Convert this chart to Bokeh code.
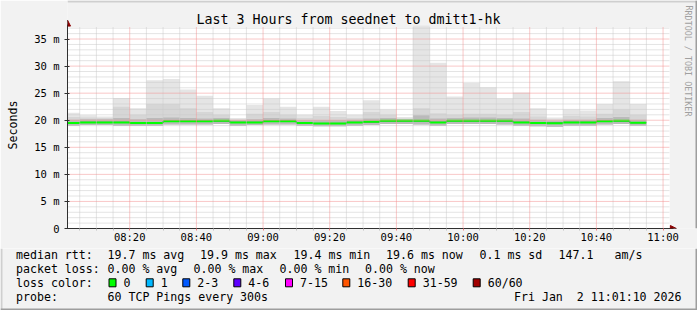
import pandas as pd
from bokeh.plotting import figure
from bokeh.layouts import column
from bokeh.models import (Range1d, FixedTicker, CustomJSTickFormatter, DatetimeTickFormatter,
                          Label, BoxAnnotation, Arrow, NormalHead)
from bokeh.embed import file_html
from bokeh.resources import INLINE

# ---------------- data ----------------
day = "2026-01-02"
interval_start = ["08:00", "08:05", "08:10", "08:15", "08:20", "08:25", "08:30", "08:35", "08:40",
                  "08:45", "08:50", "08:55", "09:00", "09:05", "09:10", "09:15", "09:20", "09:25",
                  "09:30", "09:35", "09:40", "09:45", "09:50", "09:55", "10:00", "10:05", "10:10",
                  "10:15", "10:20", "10:25", "10:30", "10:35", "10:40", "10:45", "10:50"]
median_ms = [19.5, 19.6, 19.6, 19.6, 19.5, 19.5, 19.8, 19.8, 19.8, 19.9, 19.6, 19.6, 19.8, 19.8,
             19.5, 19.4, 19.4, 19.6, 19.7, 19.9, 19.9, 19.9, 19.6, 19.9, 19.9, 19.9, 19.9, 19.6,
             19.5, 19.45, 19.6, 19.6, 19.8, 19.9, 19.55]
smoke_min_ms = [19.0, 19.1, 19.1, 19.0, 19.0, 19.0, 19.2, 19.2, 19.2, 19.3, 19.0, 19.1, 19.2, 19.2,
                19.0, 18.9, 18.9, 19.0, 19.1, 19.3, 19.3, 19.2, 19.0, 19.3, 19.3, 19.3, 19.2, 19.0,
                18.9, 18.8, 19.0, 19.0, 19.2, 19.3, 19.0]
smoke_dark_ms = [20.1, 20.2, 20.2, 20.4, 20.2, 20.4, 20.5, 20.4, 20.3, 20.4, 20.0, 20.2, 20.4, 20.3,
                 20.0, 20.0, 20.0, 20.1, 20.3, 20.4, 20.2, 20.9, 20.3, 20.4, 20.5, 20.5, 20.4, 20.3,
                 20.1, 19.9, 20.1, 20.1, 20.4, 20.6, 20.1]
smoke_mid_ms = [20.6, 20.5, 20.4, 22.5, 21.0, 23.0, 23.0, 22.2, 21.5, 21.0, 20.2, 21.2, 21.5, 21.0,
                20.4, 20.8, 20.6, 20.4, 21.5, 21.0, 20.3, 22.2, 21.3, 21.0, 21.2, 21.2, 21.0, 21.5,
                20.7, 20.2, 20.8, 20.7, 21.2, 22.0, 21.0]
smoke_max_ms = [21.4, 20.9, 20.7, 24.1, 22.2, 27.4, 27.6, 25.7, 24.5, 22.2, 20.4, 22.8, 24.0, 22.5,
                21.0, 22.5, 21.7, 21.0, 23.7, 22.0, 20.6, 37.5, 30.6, 24.4, 26.9, 26.1, 24.0, 25.1,
                22.2, 20.5, 22.0, 21.8, 23.0, 27.2, 23.0]

y_ticks = [0, 5, 10, 15, 20, 25, 30, 35]
y_minor = [1, 2, 3, 4, 6, 7, 8, 9, 11, 12, 13, 14, 16, 17, 18, 19, 21, 22, 23, 24,
           26, 27, 28, 29, 31, 32, 33, 34, 36, 37]
x_tick_labels = ["08:20", "08:40", "09:00", "09:20", "09:40", "10:00", "10:20", "10:40", "11:00"]

title_text = "Last 3 Hours from seednet to dmitt1-hk"
rtt_stats = ["19.7 ms avg", "19.9 ms max", "19.4 ms min", "19.6 ms now", "0.1 ms sd", "147.1", "am/s"]
loss_stats = ["0.00 % avg", "0.00 % max", "0.00 % min", "0.00 % now"]
loss_labels = ["0", "1", "2-3", "4-6", "7-15", "16-30", "31-59", "60/60"]
loss_colors = ["#00ff00", "#00b8ff", "#0059ff", "#5e00ff", "#ff00ff", "#ff5500", "#ff0000", "#a10000"]
probe_text = "60 TCP Pings every 300s"
stamp_text = "Fri Jan\u00a0 2 11:01:10 2026"

# ---------------- layout constants ----------------
FONT = "DejaVu Sans Mono"
W, H = 697, 310
HA = 248                    # height of the chart part, legend part below
FL, FB = 67, 228            # frame left / bottom in page pixels
PX_PER_MIN = 600 / 180
PX_PER_MS = 201 / 37.13


def ms(ts):
    return pd.Timestamp(ts).value // 10**6


T_START = pd.Timestamp(f"{day} 08:01:20")
T_FRAME_END = T_START + pd.Timedelta(minutes=(W - FL) / PX_PER_MIN)
T_AREA_END = pd.Timestamp(f"{day} 11:02:00")
Y_AREA_TOP = 37.13
Y_FRAME_TOP = FB / PX_PER_MS

t0 = pd.to_datetime([f"{day} {s}" for s in interval_start])
t1 = t0 + pd.Timedelta(minutes=5)
major_x = [ms(f"{day} {s}") for s in x_tick_labels]
minor_x = [ms(t) for t in pd.date_range(f"{day} 08:05", f"{day} 11:00", freq="5min")
           if ms(t) not in major_x]

# ---------------- chart figure ----------------
p = figure(width=W, height=HA, x_axis_type="datetime",
           x_range=Range1d(T_START, T_FRAME_END), y_range=Range1d(0, Y_FRAME_TOP),
           output_backend="svg", toolbar_location=None, title=None,
           min_border_left=FL, min_border_right=0, min_border_top=0, min_border_bottom=HA - FB,
           background_fill_color="#f2f2f2", border_fill_color="#f2f2f2", outline_line_color=None)
p.extra_x_ranges = {"px": Range1d(FL, W)}
p.extra_y_ranges = {"py": Range1d(FB, 0)}
p.xgrid.visible = False
p.ygrid.visible = False

# white canvas of the graph
p.add_layout(BoxAnnotation(left=ms(T_START), right=ms(T_AREA_END), bottom=0, top=Y_AREA_TOP,
                           fill_color="white", fill_alpha=1, line_color=None, level="underlay"))

# smoke
p.quad(left=t0, right=t1, bottom=smoke_min_ms, top=smoke_max_ms, fill_color="#e5e5e5", line_color=None)
p.quad(left=t0, right=t1, bottom=smoke_min_ms, top=smoke_mid_ms, fill_color="#d6d6d6", line_color=None)
p.quad(left=t0, right=t1, bottom=smoke_min_ms, top=smoke_dark_ms, fill_color="#bababa", line_color=None)

# median line
step_x = list(t0) + [t1[-1]]
step_y = median_ms + [median_ms[-1]]
p.step(x=step_x, y=step_y, mode="after", line_color="#202020", line_width=1)
p.segment(x0=t0, x1=t1, y0=median_ms, y1=median_ms, line_color="#00ff00", line_width=2)

# grid (on top, like rrdtool)
p.segment(x0=[ms(T_START)] * len(y_minor), x1=[ms(T_AREA_END)] * len(y_minor), y0=y_minor, y1=y_minor,
          line_color="#c8c8c8", line_dash="1 1", line_width=1)
p.segment(x0=minor_x, x1=minor_x, y0=[0] * len(minor_x), y1=[Y_AREA_TOP] * len(minor_x),
          line_color="#c8c8c8", line_dash="1 1", line_width=1)
p.segment(x0=[ms(T_START)] * 7, x1=[ms(T_AREA_END)] * 7, y0=y_ticks[1:], y1=y_ticks[1:],
          line_color="#f29090", line_dash="1 1", line_width=1)
p.segment(x0=major_x, x1=major_x, y0=[0] * len(major_x), y1=[Y_AREA_TOP] * len(major_x),
          line_color="#f29090", line_dash="1 1", line_width=1)

# axes
p.xaxis.ticker = FixedTicker(ticks=major_x, minor_ticks=minor_x)
p.xaxis.formatter = DatetimeTickFormatter(minutes="%H:%M", hourmin="%H:%M", hours="%H:%M")
p.yaxis.ticker = FixedTicker(ticks=y_ticks, minor_ticks=y_minor)
p.yaxis.formatter = CustomJSTickFormatter(code="return tick == 0 ? '0' : tick + ' m'")
for ax in (p.xaxis[0], p.yaxis[0]):
    ax.axis_line_color = "#303030"
    ax.major_label_text_font = FONT
    ax.major_label_text_font_size = "10.5px"
    ax.major_label_text_color = "#000000"
p.xaxis.bounds = (ms(T_START), ms(f"{day} 11:03:00"))
p.xaxis.major_tick_line_color = "#f08080"
p.xaxis.major_tick_in = 0
p.xaxis.major_tick_out = 2
p.xaxis.minor_tick_line_color = "#c0c0c0"
p.xaxis.minor_tick_in = 0
p.xaxis.minor_tick_out = 2
p.xaxis.major_label_standoff = 0
p.yaxis.bounds = (0, 37.6)
p.yaxis.major_tick_line_color = "#303030"
p.yaxis.major_tick_in = 2
p.yaxis.major_tick_out = 3
p.yaxis.minor_tick_line_color = None
p.yaxis.major_label_standoff = 4
p.yaxis.axis_label = "Seconds" + "\u00a0" * 3
p.yaxis.axis_label_text_font = FONT
p.yaxis.axis_label_text_font_size = "11.6px"
p.yaxis.axis_label_text_font_style = "normal"
p.yaxis.axis_label_text_color = "#000000"
p.yaxis.axis_label_standoff = 11

# axis arrows
p.add_layout(Arrow(end=NormalHead(size=6, fill_color="#8b0000", line_color="#8b0000"),
                   x_start=ms(T_START), y_start=36.0, x_end=ms(T_START), y_end=38.5,
                   line_color="#303030"))
p.add_layout(Arrow(end=NormalHead(size=6, fill_color="#8b0000", line_color="#8b0000"),
                   x_start=ms(f"{day} 11:02:30"), y_start=0, x_end=ms(f"{day} 11:04:00"), y_end=0,
                   line_color="#303030"))


def lab(fig, x, y, text, size="11.6px", align="left", color="#000000", angle=0.0, ranges=True):
    kw = dict(x_range_name="px", y_range_name="py") if ranges else {}
    fig.add_layout(Label(x=x, y=y, text=text, text_font=FONT, text_font_size=size, text_align=align,
                         text_baseline="middle", text_color=color, angle=angle, **kw))


lab(p, 348, 18.5, title_text, size="13.3px", align="center")
lab(p, 688, 5, "RRDTOOL / TOBI OETIKER", size="8.4px", align="left", color="#a0a0a0", angle=-1.5708)

for l, r, t, b, c in [(FL, W, 0, 2, "#cfcfcf"), (W - 2, W, 0, FB, "#9e9e9e")]:
    p.add_layout(BoxAnnotation(left=l, right=r, top=t, bottom=b, x_range_name="px", y_range_name="py",
                               fill_color=c, fill_alpha=1, line_color=None))

# ---------------- legend figure ----------------
HB = H - HA
q = figure(width=W, height=HB, x_range=Range1d(0, W), y_range=Range1d(H, HA),
           output_backend="svg", toolbar_location=None, title=None,
           x_axis_location=None, y_axis_location=None, min_border=0,
           min_border_left=0, min_border_right=0, min_border_top=0, min_border_bottom=0,
           background_fill_color="#f2f2f2", border_fill_color="#f2f2f2", outline_line_color=None)
q.xgrid.visible = False
q.ygrid.visible = False
for fig in (p, q):
    try:
        fig.frame_align = False
    except Exception:
        pass

rows_y = [254.3, 268.3, 282.3, 296.0]
lab(q, 15.5, rows_y[0], "median rtt:", ranges=False)
for x, t in zip([107, 199.5, 293, 385.5, 479, 558, 614], rtt_stats):
    lab(q, x, rows_y[0], t, ranges=False)
lab(q, 15.5, rows_y[1], "packet loss:", ranges=False)
for x, t in zip([107, 193, 279, 364.5], loss_stats):
    lab(q, x, rows_y[1], t, ranges=False)
lab(q, 15.5, rows_y[2], "loss color:", ranges=False)
box_x = [108.5, 145.7, 182.3, 233.3, 285, 342.3, 407.7, 472.7]
for bx, c, t in zip(box_x, loss_colors, loss_labels):
    q.add_layout(BoxAnnotation(left=bx, right=bx + 7, top=rows_y[2] - 4, bottom=rows_y[2] + 4,
                               fill_color=c, fill_alpha=1, line_color="#000000", line_width=1,
                               line_alpha=1))
    lab(q, bx + 14.5, rows_y[2], t, ranges=False)
lab(q, 15.5, rows_y[3], "probe:", ranges=False)
lab(q, 107, rows_y[3], probe_text, ranges=False)
lab(q, 681, rows_y[3], stamp_text, align="right", ranges=False)

for l, r, t, b, c in [(0, 2, HA, H, "#cfcfcf"), (0, W, H - 2, H, "#9e9e9e"), (W - 2, W, HA, H, "#9e9e9e")]:
    q.add_layout(BoxAnnotation(left=l, right=r, top=t, bottom=b, fill_color=c, fill_alpha=1,
                               line_color=None))

layout = column(p, q, spacing=0)
open("out.html", "w").write(file_html(layout, INLINE))
